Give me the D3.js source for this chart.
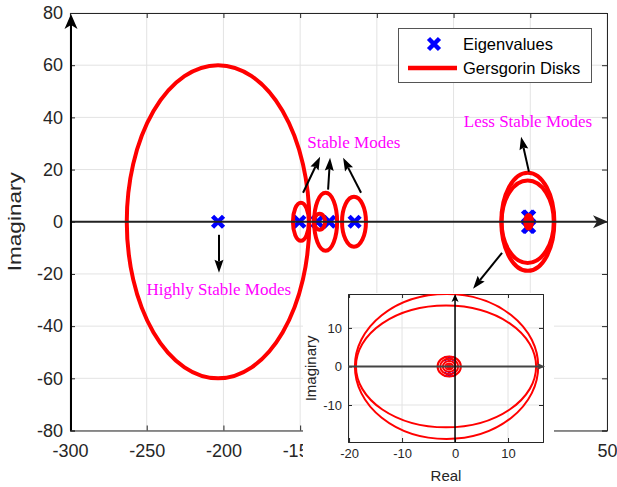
<!DOCTYPE html>
<html>
<head>
<meta charset="utf-8">
<script src="https://cdn.jsdelivr.net/npm/d3@7"></script>
<style>
body { margin: 0; background: #fff; }
text { font-family: "Liberation Sans", Arial, sans-serif; fill: #262626; }
</style>
</head>
<body>
<svg width="617" height="487"></svg>
<script>
// eigenvalues (real / imaginary parts)
var eigReal = [-203.5, -150.5, -138.8, -131, -114.5, -1.5, -1.5, -0.7, -0.7];
var eigImag = [0, 0, 0, 0, 0, 2.0, -2.0, 2.0, -2.0];

// Gersgorin disks: centre on real axis, half-width / half-height
var diskCenter = [-203.5, -149.5, -137.3, -133.4, -114.9, -1.6, -1.7, -1.1, -1.1, -1.1, -1.1, -1.1];
var diskRx = [59.5, 5.2, 3.6, 7.5, 7.8, 17.3, 17.0, 2.2, 1.7, 1.2, 0.7, 0.3];
var diskRy = [60.0, 7.3, 3.1, 11.1, 9.6, 18.8, 15.8, 2.6, 2.0, 1.4, 0.8, 0.4];

// ticks
var xTicks = [-300, -250, -200, -150, -100, -50, 0, 50];
var xTickShown = [-300, -250, -200, -150, 50]; // the others sit under the inset
var yTicks = [-80, -60, -40, -20, 0, 20, 40, 60, 80];
var insetXTicks = [-20, -10, 0, 10];
var insetYTicks = [-10, 0, 10];

// annotations (data coordinates of the main axes)
var noteText = ["Highly Stable Modes", "Stable Modes", "Less Stable Modes"];
var noteX = [-203, -115, -1.5];
var noteY = [-28, 28.4, 36.4];
var arrowFrom = [[-202.9, -5], [-148.1, 11.1], [-131.8, 12.3], [-110.3, 11.1], [-0.9, 19.2], [-18.4, -11.9]];
var arrowTo = [[-202.9, -19.5], [-137, 24.9], [-130.5, 24.5], [-122, 24.5], [-6, 32.6], [-37.3, -25.7]];

var svg = d3.select("svg");

var x = d3.scaleLinear().domain([-300, 50]).range([70, 607]),
  y = d3.scaleLinear().domain([-80, 80]).range([430.5, 13]);

var xi = d3.scaleLinear().domain([-20.2, 16.6]).range([348, 543]),
  yi = d3.scaleLinear().domain([-19.6, 18.8]).range([442, 294]);

// plain hyphen minus like the original
var fmt = function(d) { return String(d); };

// arrow with notched head, p1 -> p2 in pixels
function arrow(g, p1, p2, len, half, notch, width, color) {
  var dx = p2[0] - p1[0], dy = p2[1] - p1[1], d = Math.sqrt(dx * dx + dy * dy);
  var ux = dx / d, uy = dy / d, px = -uy, py = ux;
  var bx = p2[0] - len * ux, by = p2[1] - len * uy;
  var nx = p2[0] - (len - notch) * ux, ny = p2[1] - (len - notch) * uy;
  g.append("line").attr("x1", p1[0]).attr("y1", p1[1]).attr("x2", nx).attr("y2", ny)
    .attr("stroke", color).attr("stroke-width", width);
  g.append("path")
    .attr("d", "M" + p2[0] + "," + p2[1] + "L" + (bx + half * px) + "," + (by + half * py) +
      "L" + nx + "," + ny + "L" + (bx - half * px) + "," + (by - half * py) + "Z")
    .attr("fill", color);
}

// draws one axes box (grid, ticks, labels, eigenvalues, disks)
function panel(sx, sy, xt, yt, opt) {
  var g = svg.append("g");
  var x0 = sx.range()[0], x1 = sx.range()[1], y0 = sy.range()[1], y1 = sy.range()[0];
  var clipId = "clip" + opt.id;
  svg.append("clipPath").attr("id", clipId).append("rect")
    .attr("x", x0).attr("y", y0).attr("width", x1 - x0).attr("height", y1 - y0);

  // grid
  g.selectAll(".gx").data(xt).enter().append("line")
    .attr("x1", sx).attr("x2", sx).attr("y1", y0).attr("y2", y1)
    .attr("stroke", "#e3e3e3").attr("stroke-width", 1);
  g.selectAll(".gy").data(yt).enter().append("line")
    .attr("y1", sy).attr("y2", sy).attr("x1", x0).attr("x2", x1)
    .attr("stroke", "#e3e3e3").attr("stroke-width", 1);

  // box with inner ticks on all four sides
  var shown = opt.xShown || xt;
  var ax = [
    d3.axisBottom(sx).tickValues(xt).tickSize(-opt.tick).tickPadding(opt.xpad)
      .tickFormat(function(d) { return shown.indexOf(d) >= 0 ? fmt(d) : ""; }),
    d3.axisTop(sx).tickValues(xt).tickSize(-opt.tick).tickFormat(""),
    d3.axisLeft(sy).tickValues(yt).tickSize(-opt.tick).tickPadding(opt.ypad).tickFormat(fmt),
    d3.axisRight(sy).tickValues(yt).tickSize(-opt.tick).tickFormat("")
  ];
  var tr = ["translate(0," + y1 + ")", "translate(0," + y0 + ")", "translate(" + x0 + ",0)", "translate(" + x1 + ",0)"];
  ax.forEach(function(a, i) {
    var ga = g.append("g").attr("transform", tr[i]).call(a);
    ga.selectAll("path, line").attr("stroke", "#262626");
    ga.selectAll("text").style("font-size", opt.font + "px").attr("fill", "#262626")
      .style("font-family", '"Liberation Sans", Arial, sans-serif');
    ga.selectAll("text").filter(function() { return this.textContent === ""; }).remove();
  });

  var data = g.append("g").attr("clip-path", "url(#" + clipId + ")");

  // eigenvalues
  var m = opt.marker;
  data.selectAll(".eig").data(eigReal).enter().append("path")
    .attr("transform", function(d, i) { return "translate(" + sx(d) + "," + sy(eigImag[i]) + ")"; })
    .attr("d", "M" + (-m) + "," + (-m) + "L" + m + "," + m + "M" + (-m) + "," + m + "L" + m + "," + (-m))
    .attr("stroke", "#0000ff").attr("stroke-width", opt.markerWidth).attr("fill", "none");

  // disks
  data.selectAll(".disk").data(diskCenter).enter().append("ellipse")
    .attr("cx", function(d) { return sx(d); })
    .attr("cy", sy(0))
    .attr("rx", function(d, i) { return Math.abs(sx(d + diskRx[i]) - sx(d)); })
    .attr("ry", function(d, i) { return Math.abs(sy(0) - sy(diskRy[i])); })
    .attr("fill", "none").attr("stroke", "#ff0000").attr("stroke-width", opt.diskWidth);

  return g;
}

// ---- main axes
var main = panel(x, y, xTicks, yTicks, { id: "m", tick: 5, xpad: 14, ypad: 7, font: 18, marker: 5.5, markerWidth: 4.5, diskWidth: 4, xShown: xTickShown });

// real axis line with arrow
arrow(main, [x(-300), y(0)], [x(50) + 1, y(0)], 15, 6.5, 4, 2, "#222");
// imaginary axis (left edge) with arrow
arrow(main, [x(-300) + 1, y(-80)], [x(-300) + 1, y(80) + 1], 15, 6.5, 4, 2, "#000");

main.append("text").attr("transform", "translate(21," + y(0) + ") rotate(-90)")
  .attr("text-anchor", "middle").style("font-size", "19px")
  .attr("textLength", 99).attr("lengthAdjust", "spacingAndGlyphs")
  .text("Imaginary");

// annotations
main.selectAll(".note").data(noteText).enter().append("text")
  .attr("x", function(d, i) { return x(noteX[i]); })
  .attr("y", function(d, i) { return y(noteY[i]); })
  .attr("text-anchor", "middle")
  .style("font-family", '"Liberation Serif", "Times New Roman", serif')
  .style("font-size", "17px").style("fill", "#ff00ff")
  .text(function(d) { return d; });

arrowFrom.forEach(function(p, i) {
  arrow(main, [x(p[0]), y(p[1])], [x(arrowTo[i][0]), y(arrowTo[i][1])], 13, 4.5, 2, 2, "#000");
});

// legend
var lg = main.append("g");
lg.append("rect").attr("x", 398.5).attr("y", 28.5).attr("width", 193).attr("height", 54)
  .attr("fill", "#fff").attr("stroke", "#555").attr("stroke-width", 1);
lg.append("path").attr("transform", "translate(434,44)")
  .attr("d", "M-5.5,-5.5L5.5,5.5M-5.5,5.5L5.5,-5.5")
  .attr("stroke", "#0000ff").attr("stroke-width", 4.5).attr("fill", "none");
lg.append("line").attr("x1", 408).attr("x2", 457).attr("y1", 68).attr("y2", 68)
  .attr("stroke", "#ff0000").attr("stroke-width", 4.5);
lg.selectAll(".lt").data(["Eigenvalues", "Gersgorin Disks"]).enter().append("text")
  .attr("x", 463).attr("y", function(d, i) { return 44 + i * 24; }).attr("dy", "0.35em")
  .style("font-size", "16.5px").style("fill", "#000")
  .text(function(d) { return d; });

// ---- inset (zoom on the right-most cluster)
svg.append("rect").attr("x", 303).attr("y", 293).attr("width", 251).attr("height", 194).attr("fill", "#fff");

var inset = panel(xi, yi, insetXTicks, insetYTicks, { id: "i", tick: 4, xpad: 7, ypad: 6, font: 13, marker: 2.5, markerWidth: 1.5, diskWidth: 2 });
arrow(inset, [xi(-20.2), yi(0)], [xi(16.6) + 2, yi(0)], 8, 3.5, 2, 2, "#444");
arrow(inset, [xi(0), yi(-19.6)], [xi(0), yi(18.8)], 8, 3.5, 2, 1.5, "#000");

inset.append("text").attr("transform", "translate(316," + yi(-0.5) + ") rotate(-90)")
  .attr("text-anchor", "middle").style("font-size", "15px").text("Imaginary");
inset.append("text").attr("x", 446).attr("y", 481)
  .attr("text-anchor", "middle").style("font-size", "15px").text("Real");
</script>
</body>
</html>
